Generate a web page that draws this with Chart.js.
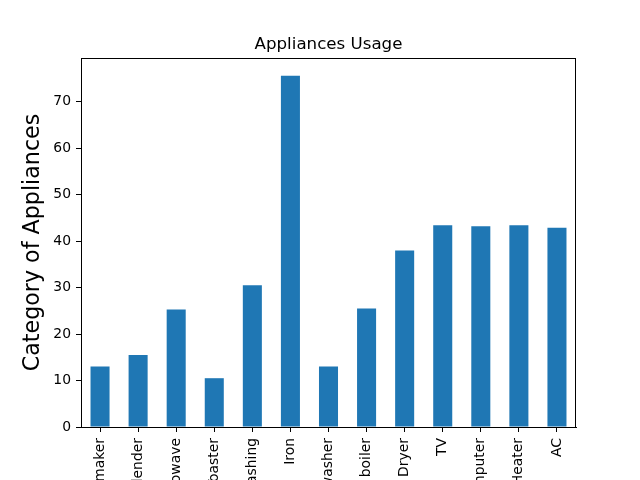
<!DOCTYPE html>
<html>
<head>
<meta charset="utf-8">
<script src="https://cdn.jsdelivr.net/npm/chart.js@4/dist/chart.umd.min.js"></script>
<style>
  html, body { margin: 0; padding: 0; background: #fff; overflow: hidden; }
  canvas { display: block; }
</style>
</head>
<body>
<canvas id="chart" width="640" height="480"></canvas>
<script>
  "use strict";

  var categories = [
    "Coffee maker", "Blender", "Microwave", "Toaster", "Washing", "Iron",
    "Dishwasher", "Water boiler", "Dryer", "TV", "Computer", "Heater", "AC"
  ];
  var usage = [13.0, 15.5, 25.3, 10.5, 30.5, 75.6, 13.0, 25.5, 38.0, 43.4, 43.2, 43.4, 42.9];
  var yTicks = [0, 10, 20, 30, 40, 50, 60, 70];
  var yMax = 79.4;
  var titleText = "Appliances Usage";

  var FONT = "'DejaVu Sans', sans-serif";

  // full box around the plot, like matplotlib spines, plus a title centred on the axes
  var frame = {
    id: "frame",
    afterDraw: function (c) {
      var a = c.chartArea, ctx = c.ctx;
      ctx.save();
      ctx.strokeStyle = "#000";
      ctx.lineWidth = 1;
      ctx.strokeRect(a.left + 0.5, a.top + 0.5, a.right - a.left - 1, a.bottom - a.top);
      ctx.fillStyle = "#000";
      ctx.font = "16.67px " + FONT;
      ctx.textAlign = "center";
      ctx.textBaseline = "alphabetic";
      ctx.fillText(titleText, (a.left + a.right) / 2, a.top - 9);
      ctx.restore();
    }
  };

  new Chart(document.getElementById("chart"), {
    type: "bar",
    data: {
      labels: categories,
      datasets: [{
        data: usage,
        backgroundColor: "#1f77b4",
        borderWidth: 0,
        categoryPercentage: 1.0,
        barPercentage: 0.5
      }]
    },
    options: {
      responsive: false,
      devicePixelRatio: 1,
      animation: false,
      layout: { padding: { left: 0, right: 64, top: 58, bottom: 0 } },
      plugins: {
        legend: { display: false },
        tooltip: { enabled: false },
        title: { display: false }
      },
      scales: {
        x: {
          grid: { offset: false, drawOnChartArea: false, drawTicks: true, tickLength: 5, color: "#000" },
          border: { color: "#000" },
          ticks: {
            color: "#000",
            font: { family: FONT, size: 13.9 },
            maxRotation: 90,
            minRotation: 90,
            autoSkip: false,
            padding: 6
          },
          afterFit: function (s) { s.height = 53; }
        },
        y: {
          min: 0,
          max: yMax,
          grid: { drawOnChartArea: false, drawTicks: true, tickLength: 5, color: "#000" },
          border: { color: "#000" },
          ticks: {
            color: "#000",
            font: { family: FONT, size: 13.9 },
            stepSize: 10,
            padding: 5
          },
          afterBuildTicks: function (s) {
            s.ticks = yTicks.map(function (v) { return { value: v }; });
          },
          afterFit: function (s) { s.width = 81; },
          title: {
            display: true,
            text: "Category of Appliances",
            color: "#000",
            font: { family: FONT, size: 22.2 },
            padding: { top: 20, bottom: 0 }
          }
        }
      }
    },
    plugins: [frame]
  });
</script>
</body>
</html>
